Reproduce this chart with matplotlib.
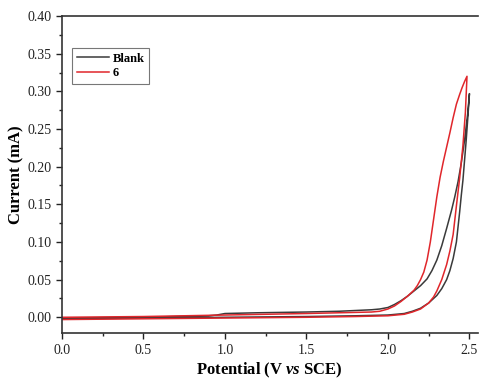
import matplotlib
matplotlib.use("Agg")
import matplotlib.pyplot as plt
from matplotlib.ticker import MultipleLocator

# Blank: lower (forward) branch then upper (return) branch
blank_fwd_x = [0.0, 0.5, 1.0, 1.5, 1.8, 2.0, 2.1, 2.15, 2.2, 2.25, 2.3, 2.33, 2.36, 2.38, 2.4, 2.42, 2.44, 2.45, 2.46, 2.48, 2.49, 2.5]
blank_fwd_y = [-0.002, -0.001, 0.0, 0.001, 0.002, 0.003, 0.005, 0.008, 0.012, 0.019, 0.029, 0.038, 0.05, 0.062, 0.078, 0.1, 0.14, 0.162, 0.182, 0.235, 0.265, 0.297]
blank_rev_x = [2.5, 2.49, 2.47, 2.45, 2.43, 2.41, 2.39, 2.36, 2.33, 2.3, 2.27, 2.24, 2.2, 2.16, 2.12, 2.08, 2.04, 2.0, 1.95, 1.9, 1.7, 1.5, 1.2, 1.0, 0.95, 0.9, 0.5, 0.0]
blank_rev_y = [0.297, 0.272, 0.235, 0.205, 0.18, 0.16, 0.142, 0.118, 0.095, 0.076, 0.062, 0.051, 0.042, 0.035, 0.028, 0.022, 0.017, 0.013, 0.011, 0.01, 0.008, 0.007, 0.006, 0.005, 0.003, 0.002, 0.0, -0.001]

# Compound 6
c6_fwd_x = [0.0, 0.5, 1.0, 1.5, 1.8, 2.0, 2.1, 2.15, 2.2, 2.25, 2.28, 2.3, 2.33, 2.36, 2.38, 2.4, 2.42, 2.44, 2.46, 2.475, 2.485]
c6_fwd_y = [-0.003, -0.002, -0.001, 0.0, 0.001, 0.002, 0.004, 0.007, 0.011, 0.019, 0.027, 0.035, 0.05, 0.07, 0.088, 0.11, 0.148, 0.185, 0.228, 0.272, 0.32]
c6_rev_x = [2.485, 2.47, 2.455, 2.44, 2.42, 2.4, 2.38, 2.36, 2.34, 2.32, 2.3, 2.28, 2.26, 2.24, 2.22, 2.2, 2.18, 2.16, 2.12, 2.08, 2.04, 2.0, 1.95, 1.9, 1.5, 1.0, 0.5, 0.0]
c6_rev_y = [0.32, 0.313, 0.305, 0.296, 0.283, 0.265, 0.245, 0.226, 0.207, 0.186, 0.16, 0.13, 0.1, 0.076, 0.06, 0.05, 0.042, 0.036, 0.028, 0.021, 0.015, 0.011, 0.008, 0.007, 0.005, 0.003, 0.001, 0.0]

legend_labels = ["Blank", "6"]

plt.rcParams['font.family'] = ['Liberation Serif', 'DejaVu Serif']
plt.rcParams['mathtext.fontset'] = 'custom'
plt.rcParams['mathtext.rm'] = 'Liberation Serif'
plt.rcParams['mathtext.bf'] = 'Liberation Serif:bold'
plt.rcParams['mathtext.it'] = 'Liberation Serif:italic'
plt.rcParams['mathtext.bfit'] = 'Liberation Serif:italic:bold'

fig = plt.figure(figsize=(4.8, 3.82), dpi=100)
ax = fig.add_axes([0.129, 0.128, 0.866, 0.830])

ax.plot(blank_fwd_x + blank_rev_x, blank_fwd_y + blank_rev_y, color='#3a3a3a', lw=1.1, label=legend_labels[0])
ax.plot(c6_fwd_x + c6_rev_x, c6_fwd_y + c6_rev_y, color='#e0262b', lw=1.1, label=legend_labels[1])

ax.set_xlim(0, 2.55)
ax.set_ylim(-0.021, 0.40)
ax.xaxis.set_major_locator(MultipleLocator(0.5))
ax.xaxis.set_minor_locator(MultipleLocator(0.25))
ax.yaxis.set_major_locator(MultipleLocator(0.05))
ax.yaxis.set_minor_locator(MultipleLocator(0.025))
ax.xaxis.set_major_formatter(plt.FuncFormatter(lambda v, p: f"{v:.1f}"))
ax.yaxis.set_major_formatter(plt.FuncFormatter(lambda v, p: f"{v:.2f}"))
ax.tick_params(which='major', direction='out', length=4, width=1, labelsize=10, colors='#222222')
ax.tick_params(which='minor', direction='out', length=2.5, width=1, colors='#222222')
ax.spines['right'].set_visible(False)
for s in ['left', 'bottom', 'top']:
    ax.spines[s].set_linewidth(1.2)
    ax.spines[s].set_color('#333333')

ax.set_xlabel('Potential (V $\\mathbfit{vs}$ SCE)', fontsize=12, fontweight='bold', labelpad=3)
ax.set_ylabel('Current (mA)', fontsize=12, fontweight='bold', labelpad=2)

leg = ax.legend(loc='upper left', bbox_to_anchor=(0.01, 0.92), frameon=True, fancybox=False,
                edgecolor='#555555', handlelength=2.5, handletextpad=0.3, borderpad=0.4,
                labelspacing=0.2, prop={'weight': 'bold', 'size': 9})
leg.get_frame().set_linewidth(0.8)

fig.savefig('out.png', dpi=100)
